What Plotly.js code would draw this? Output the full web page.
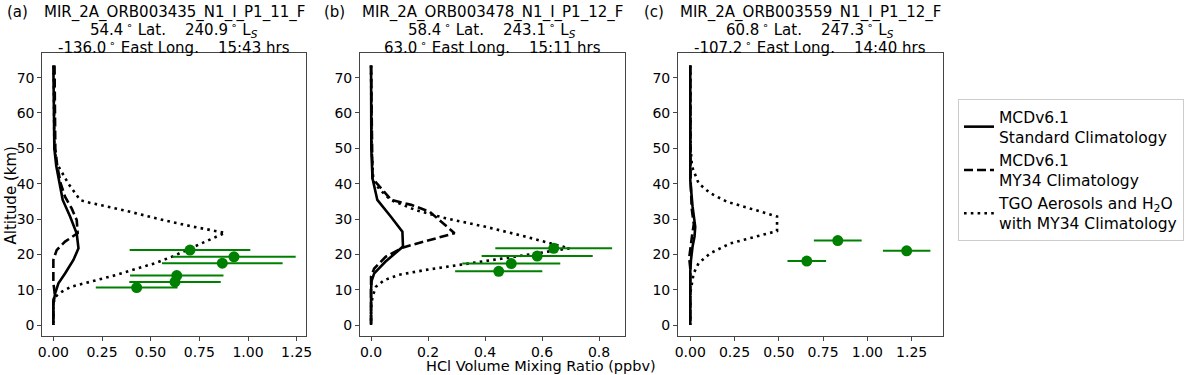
<!DOCTYPE html>
<html>
<head>
<meta charset="utf-8">
<script src="https://cdn.plot.ly/plotly-3.0.1.min.js"></script>
<style>html,body{margin:0;padding:0;background:#fff;}#chart{width:1200px;height:375px;}</style>
</head>
<body>
<div id="chart"></div>
<script>
// ---------- Panel (a) ----------
const altA_std = [73.4, 60, 50, 45, 40, 35.4, 30.7, 25.9, 21.7, 18.4, 14.6, 11.8, 9.0, 6.0, 0];
const hclA_std = [0.0, 0.002, 0.005, 0.015, 0.031, 0.048, 0.086, 0.120, 0.129, 0.103, 0.060, 0.026, 0.009, 0.0, 0.0];
const altA_my34 = [73.4, 60, 50, 45, 40, 36.3, 33.0, 29.7, 26.0, 23.6, 21.2, 18.4, 12.0, 8.5, 7.0, 0];
const hclA_my34 = [0.006, 0.007, 0.010, 0.020, 0.038, 0.060, 0.094, 0.120, 0.125, 0.060, 0.017, 0.0, 0.0, 0.008, 0.0, 0.0];
const altA_tgo = [73.4, 60, 50, 45.8, 40, 35.4, 34.8, 32.5, 29.7, 27.8, 26.1, 19.3, 17.5, 14.2, 12.5, 10.8, 9.4, 8.0, 6.0, 0];
const hclA_tgo = [0.002, 0.003, 0.005, 0.017, 0.077, 0.137, 0.170, 0.360, 0.565, 0.720, 0.882, 0.608, 0.522, 0.325, 0.200, 0.090, 0.043, 0.010, 0.0, 0.0];
const obsA_alt = [21.2, 19.3, 17.5, 14.0, 12.2, 10.6];
const obsA_hcl = [0.702, 0.928, 0.868, 0.634, 0.625, 0.428];
const obsA_err = [0.310, 0.317, 0.310, 0.240, 0.235, 0.210];

// ---------- Panel (b) ----------
const altB_std = [73.4, 60, 49.5, 41.5, 35.4, 30.7, 26.4, 22.2, 17.9, 14.6, 12.5, 10.0, 0];
const hclB_std = [0.0, 0.0, 0.001, 0.005, 0.022, 0.069, 0.110, 0.112, 0.050, 0.011, 0.002, 0.0, 0.0];
const altB_my34 = [73.4, 60, 50, 41.5, 35.4, 34.0, 32.1, 29.2, 26.0, 21.9, 19.3, 16.0, 13.7, 0];
const hclB_my34 = [0.0, 0.002, 0.003, 0.005, 0.071, 0.141, 0.205, 0.245, 0.293, 0.110, 0.051, 0.011, 0.0, 0.0];
const altB_tgo = [73.4, 50, 40.6, 38.2, 35.4, 32.5, 30.2, 27.8, 25.0, 21.7, 19.8, 18.4, 17.0, 15.6, 14.2, 12.7, 10.8, 8.0, 5.0, 0];
const hclB_tgo = [0.0, 0.002, 0.008, 0.032, 0.069, 0.157, 0.262, 0.402, 0.543, 0.696, 0.543, 0.426, 0.309, 0.192, 0.098, 0.046, 0.017, 0.005, 0.0, 0.0];
const obsB_alt = [21.7, 19.5, 17.4, 15.2];
const obsB_hcl = [0.641, 0.583, 0.492, 0.448];
const obsB_err = [0.205, 0.195, 0.172, 0.153];

// ---------- Panel (c) ----------
const altC_std = [73.4, 41.0, 33.5, 27.8, 25.0, 22.2, 18.4, 15.0, 0];
const hclC_std = [0.0, 0.0, 0.013, 0.028, 0.024, 0.013, 0.004, 0.0, 0.0];
const altC_my34 = [73.4, 41.0, 33.0, 28.5, 26.0, 22.0, 19.0, 16.0, 0];
const hclC_my34 = [0.0, 0.002, 0.008, 0.020, 0.012, 0.0, -0.006, 0.0, 0.0];
const altC_tgo = [73.4, 50, 44.8, 40.1, 37.3, 34.9, 32.5, 30.7, 26.6, 25.0, 23.1, 20.3, 17.5, 14.6, 11.0, 9.0, 0];
const hclC_tgo = [0.0, 0.002, 0.010, 0.047, 0.113, 0.207, 0.370, 0.490, 0.490, 0.376, 0.226, 0.113, 0.047, 0.019, 0.005, 0.0, 0.0];
const obsC_alt = [23.9, 21.0, 18.1];
const obsC_hcl = [0.833, 1.222, 0.658];
const obsC_err = [0.135, 0.134, 0.109];

// ---------- Text ----------
const legendNames = ["MCDv6.1<br>Standard Climatology", "MCDv6.1<br>MY34 Climatology", "TGO Aerosols and H<sub>2</sub>O<br>with MY34 Climatology"];
const panelLetters = ["(a)", "(b)", "(c)"];
const orbitNames = ["MIR_2A_ORB003435_N1_I_P1_11_F", "MIR_2A_ORB003478_N1_I_P1_12_F", "MIR_2A_ORB003559_N1_I_P1_12_F"];
const lats = ["54.4", "58.4", "60.8"];
const lss = ["240.9", "243.1", "247.3"];
const lons = ["-136.0", "63.0", "-107.2"];
const times = ["15:43", "15:11", "14:40"];
const xTitle = "HCl Volume Mixing Ratio (ppbv)";
const yTitle = "Altitude (km)";

const FONT = "DejaVu Sans, sans-serif";
const SP = "\u00a0\u00a0\u00a0\u00a0";
const DEG = "\u2009<sup>\u2218</sup>";
const styles = [
  {color: "black", width: 2.6, dash: "solid"},
  {color: "black", width: 2.6, dash: "9px,4px"},
  {color: "black", width: 2.6, dash: "2.6px,4.2px"}
];

const panels = [
  {x: "x", y: "y", std: [hclA_std, altA_std], my34: [hclA_my34, altA_my34], tgo: [hclA_tgo, altA_tgo], obs: [obsA_hcl, obsA_alt, obsA_err]},
  {x: "x2", y: "y2", std: [hclB_std, altB_std], my34: [hclB_my34, altB_my34], tgo: [hclB_tgo, altB_tgo], obs: [obsB_hcl, obsB_alt, obsB_err]},
  {x: "x3", y: "y3", std: [hclC_std, altC_std], my34: [hclC_my34, altC_my34], tgo: [hclC_tgo, altC_tgo], obs: [obsC_hcl, obsC_alt, obsC_err]}
];

const traces = [];
panels.forEach((p, i) => {
  [p.std, p.my34, p.tgo].forEach((d, k) => {
    traces.push({
      type: "scatter", mode: "lines", x: d[0], y: d[1], xaxis: p.x, yaxis: p.y,
      line: styles[k], name: legendNames[k], showlegend: i === 0, hoverinfo: "skip"
    });
  });
  traces.push({
    type: "scatter", mode: "markers", x: p.obs[0], y: p.obs[1], xaxis: p.x, yaxis: p.y,
    marker: {color: "#008000", size: 11},
    error_x: {type: "data", array: p.obs[2], visible: true, color: "#008000", thickness: 2, width: 0},
    showlegend: false, hoverinfo: "skip"
  });
});

const yDomain = [0.104, 0.859];
function xax(domain, range, dtick, fmt, anchor) {
  return {
    domain: domain, range: range, dtick: dtick, tick0: 0, tickformat: fmt, anchor: anchor,
    showgrid: false, zeroline: false, showline: true, mirror: true, linecolor: "#444", linewidth: 1,
    ticks: "outside", ticklen: 3.5, tickwidth: 1, tickcolor: "#444",
    tickfont: {family: FONT, size: 14, color: "black"}
  };
}
function yax(anchor) {
  return {
    domain: yDomain, range: [-3.1, 77.0], dtick: 10, tick0: 0, anchor: anchor,
    showgrid: false, zeroline: false, showline: true, mirror: true, linecolor: "#444", linewidth: 1,
    ticks: "outside", ticklen: 3.5, tickwidth: 1, tickcolor: "#444",
    tickfont: {family: FONT, size: 14, color: "black"}
  };
}
const xa1 = xax([0.0348, 0.2550], [-0.0596, 1.298], 0.25, ".2f", "y");
const xa2 = xax([0.2996, 0.5208], [-0.0405, 0.891], 0.2, ".1f", "y2");
const xa3 = xax([0.5646, 0.7861], [-0.072, 1.429], 0.25, ".2f", "y3");

const centers = [174 / 1200, 492.3 / 1200, 810.4 / 1200];
const letterX = [5 / 1200, 322 / 1200, 642 / 1200];
const lineY = [1 - 12.5 / 375, 1 - 29 / 375, 1 - 46.5 / 375];
const annotations = [];
for (let i = 0; i < 3; i++) {
  const f = {family: FONT, size: 15, color: "black"};
  annotations.push({xref: "paper", yref: "paper", x: letterX[i], y: lineY[0], xanchor: "left", yanchor: "middle", text: panelLetters[i], showarrow: false, font: f});
  annotations.push({xref: "paper", yref: "paper", x: centers[i], y: lineY[0], xanchor: "center", yanchor: "middle", text: orbitNames[i], showarrow: false, font: f});
  annotations.push({xref: "paper", yref: "paper", x: centers[i], y: lineY[1], xanchor: "center", yanchor: "middle",
    text: lats[i] + DEG + " Lat." + SP + lss[i] + DEG + " L<sub><i>S</i></sub>", showarrow: false, font: f});
  annotations.push({xref: "paper", yref: "paper", x: centers[i], y: lineY[2], xanchor: "center", yanchor: "middle",
    text: lons[i] + DEG + " East Long." + SP + times[i] + " hrs", showarrow: false, font: f});
}
annotations.push({xref: "paper", yref: "paper", x: 541 / 1200, y: 1 - 366 / 375, xanchor: "center", yanchor: "middle",
  text: xTitle, showarrow: false, font: {family: FONT, size: 14.5, color: "black"}});
annotations.push({xref: "paper", yref: "paper", x: 10 / 1200, y: 1 - 195.5 / 375, xanchor: "center", yanchor: "middle",
  text: yTitle, textangle: -90, showarrow: false, font: {family: FONT, size: 15, color: "black"}});

const layout = {
  width: 1200, height: 375,
  margin: {l: 0, r: 0, t: 0, b: 0},
  paper_bgcolor: "white", plot_bgcolor: "white",
  font: {family: FONT, color: "black"},
  xaxis: xa1, xaxis2: xa2, xaxis3: xa3,
  yaxis: yax("x"), yaxis2: yax("x2"), yaxis3: yax("x3"),
  showlegend: true,
  legend: {
    x: 958 / 1200, y: 1 - 99 / 375, xanchor: "left", yanchor: "top",
    bgcolor: "white", bordercolor: "#cccccc", borderwidth: 1,
    font: {family: FONT, size: 15.5, color: "black"}, tracegroupgap: 0, itemwidth: 30
  },
  annotations: annotations
};

Plotly.newPlot("chart", traces, layout, {staticPlot: true, displayModeBar: false});
</script>
</body>
</html>
